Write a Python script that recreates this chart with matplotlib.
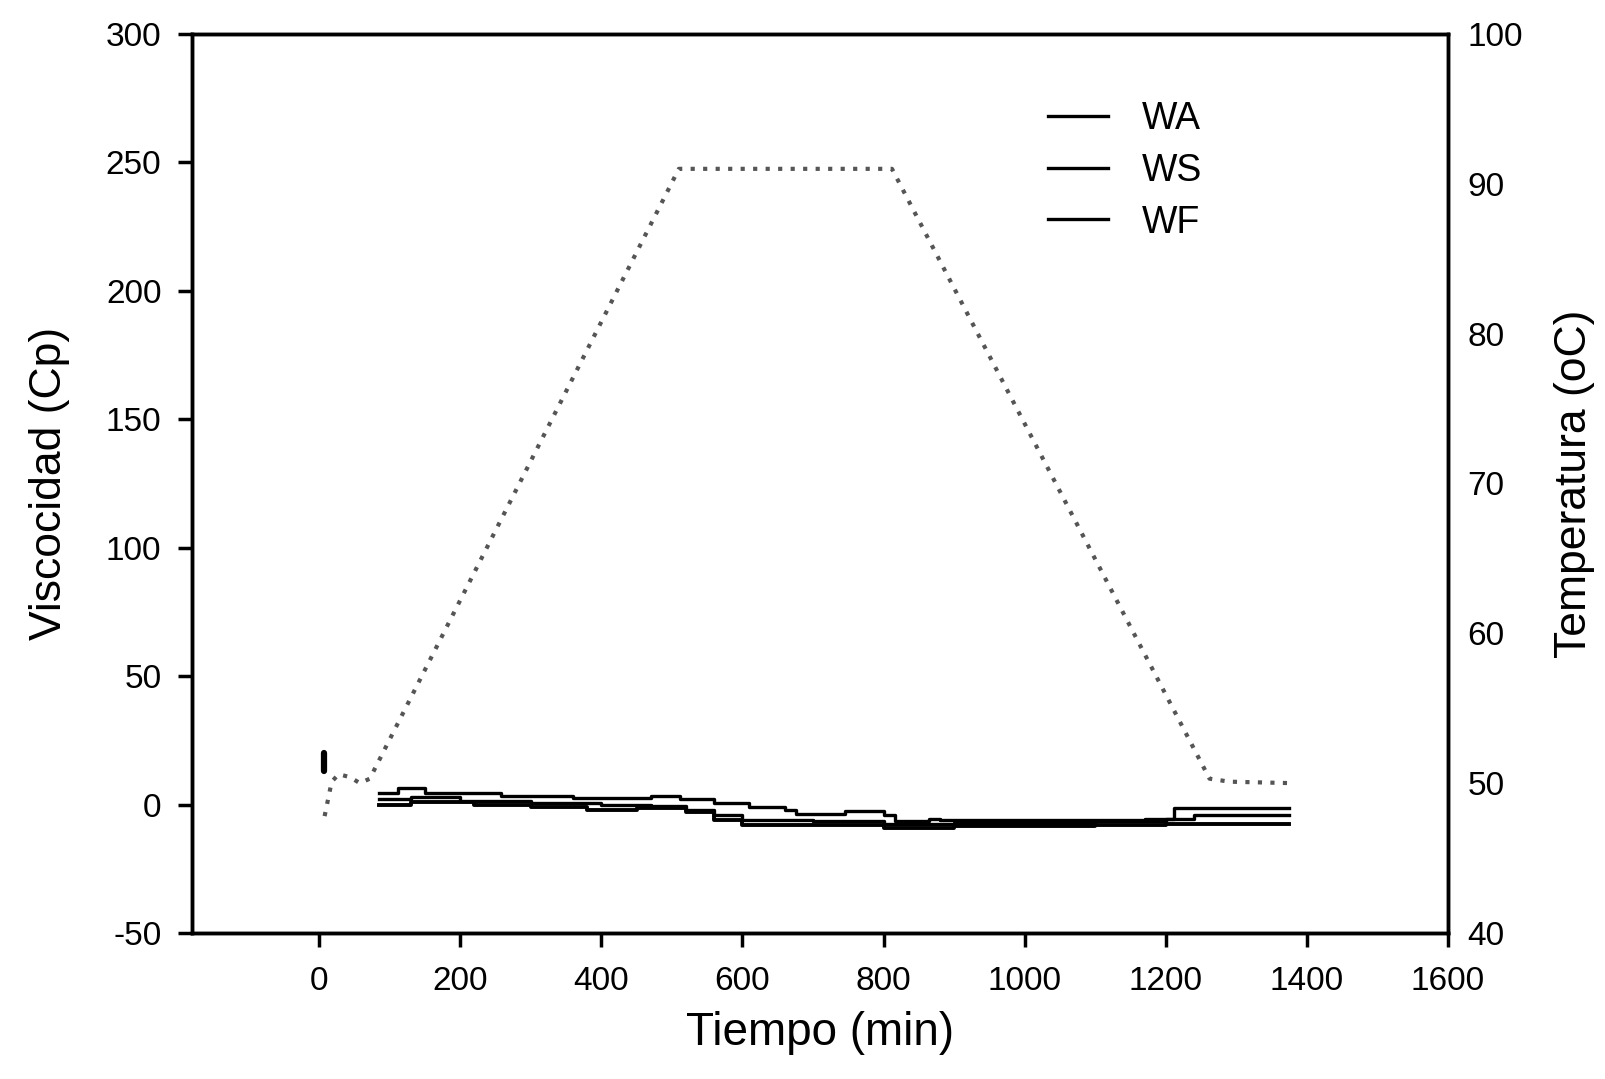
import numpy as np
import matplotlib
matplotlib.use("Agg")
import matplotlib.pyplot as plt

plt.rcParams['font.family'] = ['Liberation Sans', 'DejaVu Sans']
plt.rcParams['axes.unicode_minus'] = False

# Temperature profile (right axis)
temp_t = [8, 18, 28, 44, 58, 72, 510, 812, 1262, 1290, 1380]
temp_v = [47.8, 50.1, 50.6, 50.4, 50.0, 50.3, 91.0, 91.0, 50.3, 50.1, 50.0]

# Short viscosity mark at the start
start_t = [7, 7]
start_v = [13, 20]

# Viscosity series (left axis)
wa_t = [85, 112, 150, 258, 360, 470, 512, 560, 610, 660, 676, 745, 800, 816, 865, 880, 1170, 1212, 1375]
wa_v = [4.5, 6.5, 4.5, 3.5, 2.5, 3.5, 2.0, 0.5, -1.0, -2.0, -3.5, -2.5, -4.0, -6.5, -5.5, -6.0, -5.5, -1.5, -1.5]

ws_t = [85, 130, 200, 300, 400, 470, 520, 560, 600, 700, 800, 900, 1000, 1100, 1200, 1240, 1375]
ws_v = [2.0, 3.0, 1.5, 0.5, 0.0, -0.5, -2.0, -4.0, -6.0, -6.5, -7.5, -7.0, -7.0, -6.5, -5.5, -4.0, -4.0]

wf_t = [85, 130, 220, 300, 380, 450, 520, 560, 600, 700, 800, 900, 1000, 1100, 1200, 1375]
wf_v = [0.0, 1.0, 0.0, -1.0, -2.0, -1.5, -3.0, -6.0, -8.0, -8.0, -9.0, -8.5, -8.5, -8.0, -7.5, -7.5]

x_ticks = [0, 200, 400, 600, 800, 1000, 1200, 1400, 1600]
yl_ticks = [-50, 0, 50, 100, 150, 200, 250, 300]
yr_ticks = [40, 50, 60, 70, 80, 90, 100]

fig = plt.figure(figsize=(16.05, 10.79), dpi=100)
ax = fig.add_axes([0.1196, 0.1353, 0.7826, 0.8332])
ax2 = ax.twinx()

ax2.plot(temp_t, temp_v, linestyle=(0, (1, 2.0)), color='#555555', lw=3)

ax.plot(start_t, start_v, color='black', lw=4.5, solid_capstyle='round')
ax.plot(wa_t, wa_v, color='black', lw=2.4, drawstyle='steps-post', label='WA')
ax.plot(ws_t, ws_v, color='black', lw=2.4, drawstyle='steps-post', label='WS')
ax.plot(wf_t, wf_v, color='black', lw=2.8, drawstyle='steps-post', label='WF')

ax.set_xlim(-180, 1600)
ax.set_ylim(-50, 300)
ax2.set_ylim(40, 100)

ax.set_xticks(x_ticks)
ax.set_yticks(yl_ticks)
ax2.set_yticks(yr_ticks)

ax.tick_params(axis='both', direction='out', length=10, width=2.5, labelsize=24, pad=12)
ax.tick_params(axis='x', pad=14)
ax2.tick_params(axis='y', length=0, labelsize=24, pad=14)
ax.yaxis.set_ticks_position('left')
ax.xaxis.set_ticks_position('bottom')

for a in (ax, ax2):
    for s in a.spines.values():
        s.set_linewidth(2.5)

ax.set_xlabel('Tiempo (min)', fontsize=33, labelpad=10)
ax.set_ylabel('Viscocidad (Cp)', fontsize=32, labelpad=26)
ax2.set_ylabel('Temperatura (oC)', fontsize=32, labelpad=22)

leg = ax.legend(loc='upper left', bbox_to_anchor=(0.655, 0.963), frameon=False,
                fontsize=27, handlelength=1.6, handletextpad=0.9, labelspacing=0.42)
for h in leg.get_lines():
    h.set_linewidth(2.4)

fig.savefig('out.png', dpi=100, facecolor='white')
